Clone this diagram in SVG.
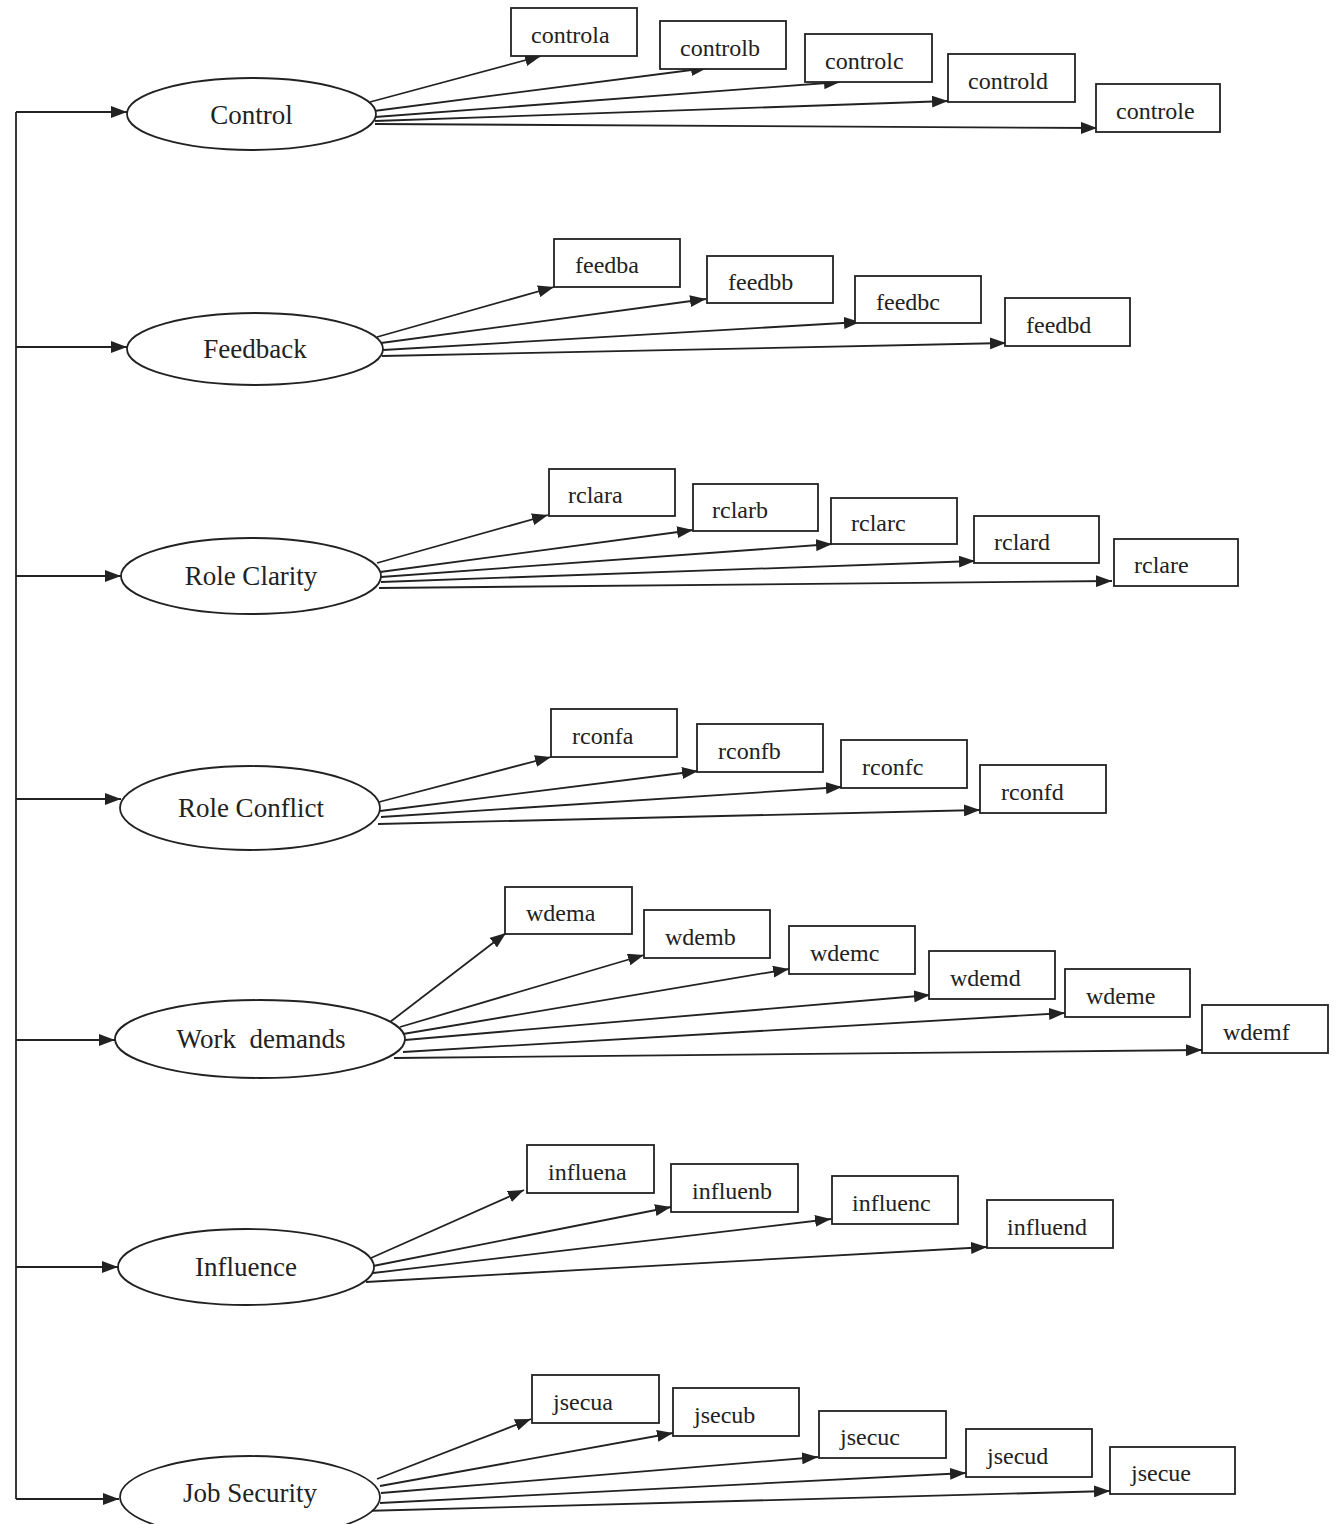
<svg xmlns="http://www.w3.org/2000/svg" width="1337" height="1524" viewBox="0 0 1337 1524">
  <style>
    .conn line, .conn path { stroke: #222; stroke-width: 1.8; fill: none; }
    .conn line { marker-end: url(#ah); }
    .factor ellipse { fill: #fff; stroke: #222; stroke-width: 1.8; }
    .factor text { font-family: "Liberation Serif", "Times New Roman", serif; font-size: 27px; fill: #222; text-anchor: middle; }
    .item rect { fill: #fff; stroke: #222; stroke-width: 1.8; }
    .item text { font-family: "Liberation Serif", "Times New Roman", serif; font-size: 24px; fill: #222; }
  </style>
  <defs>
    <marker id="ah" markerWidth="16" markerHeight="12" refX="16" refY="6" orient="auto" markerUnits="userSpaceOnUse">
      <path d="M0,0 L16,6 L0,12 z" fill="#222"/>
    </marker>
  </defs>
  <rect width="1337" height="1524" fill="#fff"/>

  <g id="connectors" class="conn">
    <!-- trunk feeding every factor -->
    <path d="M16,112 V1499"/>
    <line x1="16" y1="112" x2="127" y2="112"/>
    <line x1="16" y1="347" x2="127" y2="347"/>
    <line x1="16" y1="576" x2="121" y2="576"/>
    <line x1="16" y1="799" x2="121" y2="799"/>
    <line x1="16" y1="1040" x2="115" y2="1040"/>
    <line x1="16" y1="1267" x2="118" y2="1267"/>
    <line x1="16" y1="1499" x2="119" y2="1499"/>

    <!-- Control items -->
    <line x1="370" y1="102" x2="541" y2="56"/>
    <line x1="374" y1="111" x2="707" y2="68"/>
    <line x1="375" y1="117" x2="840" y2="82"/>
    <line x1="375" y1="121" x2="948" y2="101"/>
    <line x1="375" y1="124" x2="1097" y2="128"/>

    <!-- Feedback items -->
    <line x1="377" y1="337" x2="554" y2="287"/>
    <line x1="381" y1="343" x2="706" y2="299"/>
    <line x1="383" y1="350" x2="860" y2="322"/>
    <line x1="382" y1="356" x2="1006" y2="343"/>

    <!-- Role Clarity items -->
    <line x1="377" y1="563" x2="548" y2="515"/>
    <line x1="380" y1="572" x2="693" y2="530"/>
    <line x1="381" y1="577" x2="832" y2="544"/>
    <line x1="381" y1="582" x2="975" y2="561"/>
    <line x1="379" y1="588" x2="1112" y2="581"/>

    <!-- Role Conflict items -->
    <line x1="379" y1="802" x2="551" y2="757"/>
    <line x1="380" y1="811" x2="698" y2="771"/>
    <line x1="381" y1="817" x2="842" y2="787"/>
    <line x1="378" y1="824" x2="980" y2="810"/>

    <!-- Work demands items -->
    <line x1="390" y1="1022" x2="506" y2="933"/>
    <line x1="400" y1="1027" x2="644" y2="955"/>
    <line x1="403" y1="1034" x2="789" y2="969"/>
    <line x1="405" y1="1040" x2="930" y2="995"/>
    <line x1="403" y1="1052" x2="1065" y2="1013"/>
    <line x1="394" y1="1058" x2="1202" y2="1050"/>

    <!-- Influence items -->
    <line x1="371" y1="1258" x2="524" y2="1190"/>
    <line x1="373" y1="1266" x2="671" y2="1207"/>
    <line x1="373" y1="1273" x2="831" y2="1219"/>
    <line x1="366" y1="1282" x2="987" y2="1247"/>

    <!-- Job Security items -->
    <line x1="377" y1="1479" x2="531" y2="1419"/>
    <line x1="380" y1="1486" x2="673" y2="1433"/>
    <line x1="381" y1="1493" x2="818" y2="1457"/>
    <line x1="380" y1="1503" x2="966" y2="1473"/>
    <line x1="362" y1="1511" x2="1110" y2="1491"/>
  </g>

  <!-- factors -->
  <g id="control" class="factor">
    <ellipse cx="251.5" cy="114" rx="124.5" ry="36"/>
    <text x="251.5" y="124">Control</text>
  </g>
  <g id="feedback" class="factor">
    <ellipse cx="255" cy="349" rx="128" ry="36"/>
    <text x="255" y="358">Feedback</text>
  </g>
  <g id="role-clarity" class="factor">
    <ellipse cx="251" cy="576" rx="130" ry="38"/>
    <text x="251" y="585">Role Clarity</text>
  </g>
  <g id="role-conflict" class="factor">
    <ellipse cx="250" cy="808" rx="130" ry="42"/>
    <text x="251" y="817">Role Conflict</text>
  </g>
  <g id="work-demands" class="factor">
    <ellipse cx="260" cy="1039" rx="145" ry="39"/>
    <text x="261" y="1048" style="white-space:pre">Work  demands</text>
  </g>
  <g id="influence" class="factor">
    <ellipse cx="246" cy="1267" rx="128" ry="38"/>
    <text x="246" y="1276">Influence</text>
  </g>
  <g id="job-security" class="factor">
    <ellipse cx="250" cy="1497" rx="130" ry="41"/>
    <text x="250" y="1502">Job Security</text>
  </g>

  <!-- Control items -->
  <g id="controla" class="item"><rect x="511" y="8" width="126" height="48"/><text x="531" y="43">controla</text></g>
  <g id="controlb" class="item"><rect x="660" y="21" width="126" height="48"/><text x="680" y="56">controlb</text></g>
  <g id="controlc" class="item"><rect x="805" y="34" width="127" height="48"/><text x="825" y="69">controlc</text></g>
  <g id="controld" class="item"><rect x="948" y="54" width="127" height="48"/><text x="968" y="89">controld</text></g>
  <g id="controle" class="item"><rect x="1096" y="84" width="124" height="48"/><text x="1116" y="119">controle</text></g>

  <!-- Feedback items -->
  <g id="feedba" class="item"><rect x="554" y="239" width="126" height="48"/><text x="575" y="273">feedba</text></g>
  <g id="feedbb" class="item"><rect x="707" y="256" width="126" height="47"/><text x="728" y="290">feedbb</text></g>
  <g id="feedbc" class="item"><rect x="855" y="276" width="126" height="47"/><text x="876" y="310">feedbc</text></g>
  <g id="feedbd" class="item"><rect x="1005" y="298" width="125" height="48"/><text x="1026" y="333">feedbd</text></g>

  <!-- Role Clarity items -->
  <g id="rclara" class="item"><rect x="549" y="469" width="126" height="47"/><text x="568" y="503">rclara</text></g>
  <g id="rclarb" class="item"><rect x="693" y="484" width="125" height="47"/><text x="712" y="518">rclarb</text></g>
  <g id="rclarc" class="item"><rect x="831" y="498" width="126" height="46"/><text x="851" y="531">rclarc</text></g>
  <g id="rclard" class="item"><rect x="974" y="516" width="125" height="47"/><text x="994" y="550">rclard</text></g>
  <g id="rclare" class="item"><rect x="1114" y="539" width="124" height="47"/><text x="1134" y="573">rclare</text></g>

  <!-- Role Conflict items -->
  <g id="rconfa" class="item"><rect x="551" y="709" width="126" height="48"/><text x="572" y="744">rconfa</text></g>
  <g id="rconfb" class="item"><rect x="697" y="724" width="126" height="48"/><text x="718" y="759">rconfb</text></g>
  <g id="rconfc" class="item"><rect x="841" y="740" width="126" height="48"/><text x="862" y="775">rconfc</text></g>
  <g id="rconfd" class="item"><rect x="980" y="765" width="126" height="48"/><text x="1001" y="800">rconfd</text></g>

  <!-- Work demands items -->
  <g id="wdema" class="item"><rect x="505" y="887" width="127" height="47"/><text x="526" y="921">wdema</text></g>
  <g id="wdemb" class="item"><rect x="644" y="910" width="126" height="48"/><text x="665" y="945">wdemb</text></g>
  <g id="wdemc" class="item"><rect x="789" y="926" width="126" height="48"/><text x="810" y="961">wdemc</text></g>
  <g id="wdemd" class="item"><rect x="929" y="951" width="126" height="48"/><text x="950" y="986">wdemd</text></g>
  <g id="wdeme" class="item"><rect x="1065" y="969" width="125" height="48"/><text x="1086" y="1004">wdeme</text></g>
  <g id="wdemf" class="item"><rect x="1202" y="1005" width="126" height="48"/><text x="1223" y="1040">wdemf</text></g>

  <!-- Influence items -->
  <g id="influena" class="item"><rect x="527" y="1145" width="127" height="48"/><text x="548" y="1180">influena</text></g>
  <g id="influenb" class="item"><rect x="671" y="1164" width="127" height="48"/><text x="692" y="1199">influenb</text></g>
  <g id="influenc" class="item"><rect x="832" y="1176" width="126" height="48"/><text x="852" y="1211">influenc</text></g>
  <g id="influend" class="item"><rect x="987" y="1200" width="126" height="48"/><text x="1007" y="1235">influend</text></g>

  <!-- Job Security items -->
  <g id="jsecua" class="item"><rect x="532" y="1375" width="127" height="48"/><text x="553" y="1410">jsecua</text></g>
  <g id="jsecub" class="item"><rect x="673" y="1388" width="126" height="48"/><text x="694" y="1423">jsecub</text></g>
  <g id="jsecuc" class="item"><rect x="819" y="1411" width="127" height="47"/><text x="840" y="1445">jsecuc</text></g>
  <g id="jsecud" class="item"><rect x="966" y="1429" width="126" height="48"/><text x="987" y="1464">jsecud</text></g>
  <g id="jsecue" class="item"><rect x="1110" y="1447" width="125" height="47"/><text x="1131" y="1481">jsecue</text></g>
</svg>
